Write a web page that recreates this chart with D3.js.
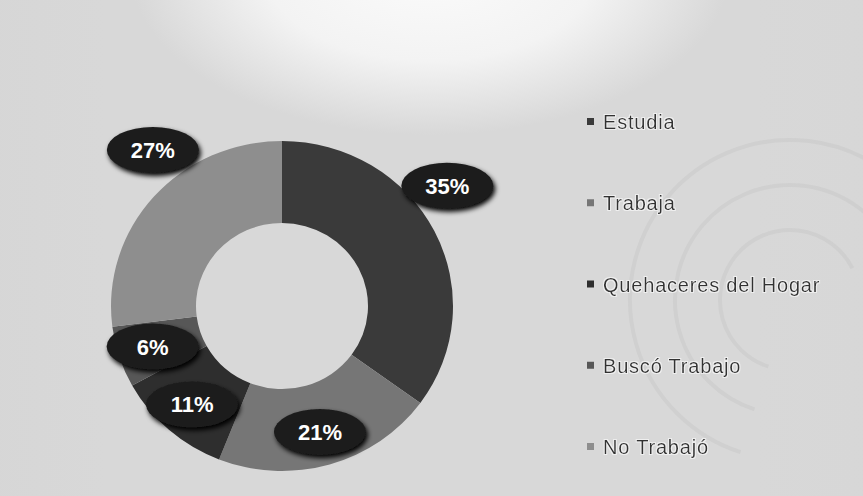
<!DOCTYPE html>
<html>
<head>
<meta charset="utf-8">
<script src="https://cdn.jsdelivr.net/npm/d3@7"></script>
<style>
  body { margin: 0; background: #d4d4d4; }
  svg { display: block; }
</style>
</head>
<body>
<script>
  // chart data
  let categories = ["Estudia", "Trabaja", "Quehaceres del Hogar", "Buscó Trabajo", "No Trabajó"];
  let values = [35, 21, 11, 6, 27];
  let labels = ["35%", "21%", "11%", "6%", "27%"];
  let colors = ["#3a3a3a", "#767676", "#2e2e2e", "#575757", "#8e8e8e"];

  let width = 863, height = 496;
  let cx = 282, cy = 306;
  let outerR = 171, innerR = 86;

  let svg = d3.select("body").append("svg")
    .attr("width", width)
    .attr("height", height);

  let defs = svg.append("defs");

  // light glow at the top centre of the background
  let glow = defs.append("radialGradient")
    .attr("id", "glow")
    .attr("gradientUnits", "userSpaceOnUse")
    .attr("cx", 430).attr("cy", -30)
    .attr("r", 300)
    .attr("gradientTransform", "translate(430,-30) scale(1,0.55) translate(-430,30)");
  glow.append("stop").attr("offset", "0%").attr("stop-color", "#ffffff");
  glow.append("stop").attr("offset", "55%").attr("stop-color", "#f6f6f6");
  glow.append("stop").attr("offset", "100%").attr("stop-color", "#d8d8d8");

  let side = defs.append("linearGradient").attr("id", "side");
  side.append("stop").attr("offset", "0%").attr("stop-color", "#c8c8c8");
  side.append("stop").attr("offset", "12%").attr("stop-color", "#d8d8d8");
  side.append("stop").attr("offset", "88%").attr("stop-color", "#d8d8d8");
  side.append("stop").attr("offset", "100%").attr("stop-color", "#cdcdcd");

  let shadow = defs.append("filter").attr("id", "shadow")
    .attr("x", "-30%").attr("y", "-30%").attr("width", "160%").attr("height", "160%");
  shadow.append("feGaussianBlur").attr("in", "SourceAlpha").attr("stdDeviation", 2.5);
  shadow.append("feOffset").attr("dx", 2).attr("dy", 3).attr("result", "blur");
  let merge = shadow.append("feMerge");
  merge.append("feMergeNode").attr("in", "blur");
  merge.append("feMergeNode").attr("in", "SourceGraphic");

  let halo = defs.append("filter").attr("id", "halo");
  halo.append("feMorphology").attr("in", "SourceAlpha").attr("operator", "dilate").attr("radius", 1).attr("result", "d");
  halo.append("feFlood").attr("flood-color", "#ffffff").attr("flood-opacity", 0.6);
  halo.append("feComposite").attr("in2", "d").attr("operator", "in").attr("result", "h");
  let hm = halo.append("feMerge");
  hm.append("feMergeNode").attr("in", "h");
  hm.append("feMergeNode").attr("in", "SourceGraphic");

  // background
  svg.append("rect")
    .attr("width", width).attr("height", height)
    .style("fill", "url(#side)");
  svg.append("rect")
    .attr("width", width).attr("height", height)
    .style("fill", "url(#glow)")
    .attr("opacity", 0.9);

  // faint watermark curves on the right
  let wm = svg.append("g").attr("fill", "none").attr("stroke", "#cbcbcb").attr("stroke-width", 4).attr("opacity", 0.6);
  [70, 115, 160].forEach(function(r) {
    wm.append("path")
      .attr("d", d3.arc()({ innerRadius: r, outerRadius: r, startAngle: -Math.PI * 0.9, endAngle: Math.PI * 0.35 }))
      .attr("transform", "translate(790,300)");
  });

  // donut
  let pie = d3.pie().sort(null).value(function(d) { return d; });
  let arcs = pie(values);
  let arc = d3.arc().innerRadius(innerR).outerRadius(outerR);

  let chart = svg.append("g")
    .attr("transform", "translate(" + cx + "," + cy + ") scale(1,0.965)");

  chart.selectAll(".slice")
    .data(arcs)
    .enter()
    .append("path")
      .attr("class", "slice")
      .attr("d", arc)
      .style("fill", function(d, i) { return colors[i]; });

  // data labels: big slices sit outside, small slices on the ring
  let labelPos = function(d) {
    let mid = (d.startAngle + d.endAngle) / 2;
    let r = 136, a = mid;
    if (d.value >= 25) {
      r = 207;
      a = mid + (mid > Math.PI ? 1 : -1) * 10 * Math.PI / 180;
    }
    return [cx + r * Math.sin(a), cy - r * Math.cos(a) * 0.965];
  };

  let lab = svg.selectAll(".lab")
    .data(arcs)
    .enter()
    .append("g")
      .attr("class", "lab")
      .attr("transform", function(d) { let p = labelPos(d); return "translate(" + p[0] + "," + p[1] + ")"; });

  lab.append("ellipse")
    .attr("rx", 46).attr("ry", 23)
    .style("fill", "#1c1c1c")
    .attr("filter", "url(#shadow)");

  lab.append("text")
    .attr("y", 8)
    .attr("text-anchor", "middle")
    .style("font-family", "'Liberation Sans', Arial, sans-serif")
    .style("font-size", "22px")
    .style("font-weight", "bold")
    .style("fill", "#ffffff")
    .text(function(d, i) { return labels[i]; });

  // legend
  let legendY = d3.scalePoint().domain(categories).range([122, 447]);

  let leg = svg.selectAll(".leg")
    .data(categories)
    .enter()
    .append("g")
      .attr("class", "leg")
      .attr("transform", function(d) { return "translate(587," + legendY(d) + ")"; });

  leg.append("rect")
    .attr("x", 0).attr("y", -4)
    .attr("width", 7).attr("height", 7)
    .style("fill", function(d, i) { return colors[i]; });

  leg.append("text")
    .attr("x", 16).attr("y", 7)
    .style("font-family", "'Liberation Sans', Arial, sans-serif")
    .style("font-size", "20px")
    .style("letter-spacing", "0.8px")
    .style("fill", "#333333")
    .attr("filter", "url(#halo)")
    .text(function(d) { return d; });
</script>
</body>
</html>
